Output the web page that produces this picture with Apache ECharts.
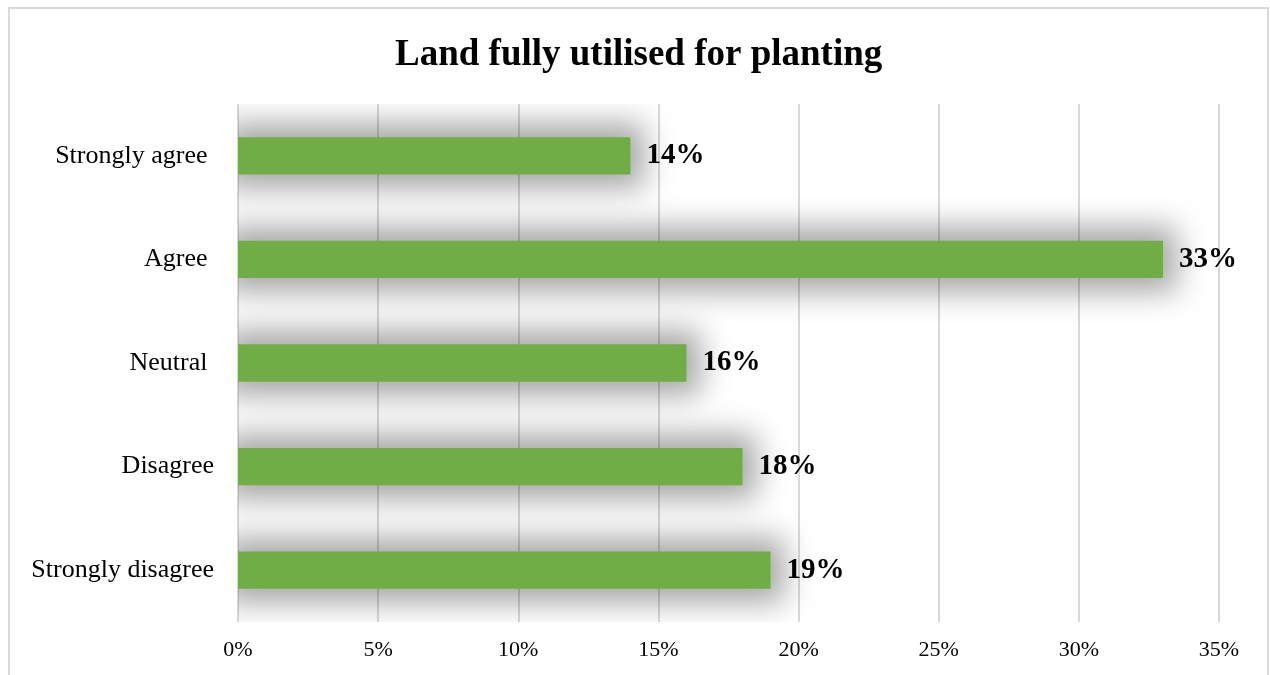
<!DOCTYPE html>
<html>
<head>
<meta charset="utf-8">
<script src="https://cdn.jsdelivr.net/npm/echarts@6/dist/echarts.min.js"></script>
<style>
  html, body { margin: 0; padding: 0; background: #fff; }
  #chart { width: 1270px; height: 675px; }
</style>
</head>
<body>
<div id="chart"></div>
<script>
// Survey responses: share of respondents per answer
const categories = ['Strongly agree ', 'Agree ', 'Neutral ', 'Disagree', 'Strongly disagree'];
const shares = [14, 33, 16, 18, 19];
const axisMax = 35;
const axisStep = 5;

const serif = '"Liberation Serif", "Times New Roman", serif';
const BAR_RATIO = 0.36;   // bar thickness as a share of the category band
const GLOW_SPREAD = 14;   // how far the soft glow reaches past the bar edges
const GLOW_BLUR = 30;
const OFFSCREEN = 4000;   // glow shape is drawn off-canvas, only its shadow lands on the plot

const chart = echarts.init(document.getElementById('chart'), null, { renderer: 'canvas' });

// Soft grey glow behind each bar: a rect enlarged by GLOW_SPREAD whose shadow
// (shifted back on-screen) gives the blurred halo.
function renderGlow(params, api) {
  const start = api.coord([0, api.value(1)]);
  const end = api.coord([api.value(0), api.value(1)]);
  const band = api.size([0, 1])[1];
  const h = band * BAR_RATIO;
  return {
    type: 'rect',
    shape: {
      x: start[0] - GLOW_SPREAD - OFFSCREEN,
      y: start[1] - h / 2 - GLOW_SPREAD,
      width: end[0] - start[0] + GLOW_SPREAD * 2,
      height: h + GLOW_SPREAD * 2
    },
    style: {
      fill: '#000',
      shadowColor: 'rgba(0,0,0,0.35)',
      shadowBlur: GLOW_BLUR,
      shadowOffsetX: OFFSCREEN,
      shadowOffsetY: 0
    },
    silent: true
  };
}

chart.setOption({
  backgroundColor: '#ffffff',
  animation: false,
  title: {
    text: 'Land fully utilised for planting',
    left: 390,
    top: 32,
    textStyle: { fontFamily: serif, fontWeight: 'bold', fontSize: 37, color: '#000' }
  },
  graphic: [
    {
      // chart frame
      type: 'rect',
      shape: { x: 9, y: 8, width: 1259, height: 720 },
      style: { fill: 'none', stroke: '#d9d9d9', lineWidth: 2 },
      silent: true,
      z: 0
    }
  ],
  grid: { left: 238, right: 51, top: 104, bottom: 53, containLabel: false },
  xAxis: {
    type: 'value',
    min: 0,
    max: axisMax,
    interval: axisStep,
    axisLine: { show: false },
    axisTick: { show: false },
    axisLabel: {
      formatter: v => v + '%',
      fontFamily: serif,
      fontSize: 22,
      color: '#000',
      margin: 17
    },
    splitLine: { show: true, lineStyle: { color: '#d9d9d9', width: 2 } }
  },
  yAxis: {
    type: 'category',
    data: categories,
    inverse: true,
    axisLine: { show: false },
    axisTick: { show: false },
    axisLabel: {
      fontFamily: serif,
      fontSize: 26,
      color: '#000',
      margin: 24
    }
  },
  series: [
    {
      type: 'custom',
      renderItem: renderGlow,
      data: shares.map((v, i) => [v, i]),
      encode: { x: 0, y: 1 },
      clip: true,
      z: 1,
      silent: true
    },
    {
      type: 'bar',
      data: shares,
      barWidth: (BAR_RATIO * 100) + '%',
      z: 3,
      itemStyle: { color: '#70ad47' },
      label: {
        show: true,
        position: 'right',
        distance: 16,
        formatter: p => p.value + '%',
        fontFamily: serif,
        fontWeight: 'bold',
        fontSize: 29,
        color: '#000'
      }
    }
  ]
});
</script>
</body>
</html>
